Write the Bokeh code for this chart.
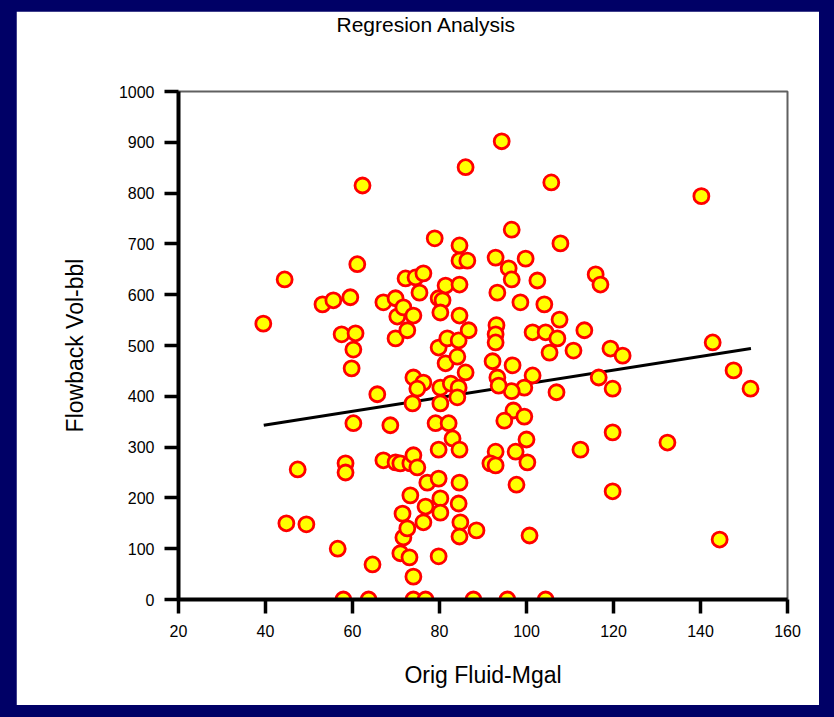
from bokeh.plotting import figure
from bokeh.models import Range1d, FixedTicker, Title
from bokeh.layouts import column
from bokeh.embed import file_html
from bokeh.resources import INLINE

# ---- data ----
orig_fluid = [
    39.5, 44.4, 44.8, 47.4, 49.4, 53.1, 55.6, 56.6, 57.9, 57.5, 58.4, 58.4, 59.5, 59.8, 60.2,
    60.7, 60.2, 61.1, 62.3, 63.7, 64.6, 65.7, 67.1, 67.1, 68.7, 69.9, 69.9, 69.9, 70.3, 71.7,
    72.2, 72.6, 74.0, 74.5, 76.3, 75.4, 71.0, 73.3, 71.5, 71.7, 72.6, 71.0, 73.1, 73.3, 74.0,
    74.0, 76.8, 74.0, 74.9, 73.8, 74.0, 76.3, 74.9, 77.2, 79.8, 76.8, 80.2, 80.2, 76.3, 79.8,
    78.9, 79.8, 80.7, 80.2, 81.4, 79.8, 81.8, 81.4, 80.2, 82.6, 84.4, 84.1, 80.2, 79.1, 82.1,
    83.0, 79.8, 84.6, 84.6, 84.4, 84.8, 88.5, 84.6, 84.6, 84.6, 86.4, 84.6, 84.6, 84.4, 86.7,
    84.1, 86.0, 86.0, 87.8, 95.6, 104.4,
    94.3, 96.6, 92.9, 99.8, 95.9, 96.6, 93.3, 98.6, 102.5, 104.1, 93.1, 92.9, 92.9, 92.2, 96.8,
    101.4, 104.4, 107.1, 101.4, 99.5, 96.6, 93.3, 93.6, 97.0, 94.9, 99.5, 100.0, 97.5, 92.9, 91.7,
    92.9, 100.2, 97.7, 100.7, 105.7, 107.8, 105.3, 106.9, 107.6, 110.8, 113.3, 112.4, 115.9, 117.0,
    116.6, 119.3, 122.1, 119.8, 119.8, 119.8, 132.4, 140.2, 142.8, 144.4, 147.6, 151.5,
]
flowback_vol = [
    543, 630, 150, 256, 148, 581, 589, 100, 0, 522, 268, 250, 595, 455, 492,
    524, 347, 660, 815, 0, 69, 404, 585, 274, 343, 593, 514, 270, 557, 575,
    632, 530, 559, 634, 642, 604, 268, 268, 169, 122, 140, 91, 83, 205, 45,
    0, 0, 284, 260, 386, 437, 427, 415, 230, 238, 183, 199, 171, 152, 85,
    711, 593, 589, 565, 618, 496, 514, 465, 417, 425, 417, 398, 386, 347, 347,
    317, 295, 295, 230, 189, 152, 136, 124, 697, 667, 667, 620, 559, 510, 530,
    478, 851, 447, 0, 0, 0,
    902, 728, 673, 671, 652, 630, 604, 585, 628, 581, 540, 522, 506, 469, 461,
    526, 526, 514, 441, 417, 410, 437, 421, 372, 352, 360, 315, 291, 291, 268,
    264, 270, 226, 126, 821, 701, 486, 408, 551, 490, 530, 295, 640, 620,
    437, 494, 480, 415, 329, 213, 309, 794, 506, 118, 451, 415,
]
# regression line end points
reg_x = [39.6, 151.6]
reg_y = [343, 494]

x_ticks = [20, 40, 60, 80, 100, 120, 140, 160]
y_ticks = [0, 100, 200, 300, 400, 500, 600, 700, 800, 900, 1000]

FONT = "Liberation Sans"

p = figure(
    width=803, height=694,
    x_range=Range1d(20, 160), y_range=Range1d(0, 1000),
    output_backend="svg", toolbar_location=None,
    min_border_left=162, min_border_right=32,
    min_border_top=80, min_border_bottom=106,
    background_fill_color="white", border_fill_color="white",
)
p.margin = (11, 15, 12, 16)

# empty spacer title (next to the frame) pushes the real title to the top
spacer = Title(text=" ", text_font_size="10px", standoff=41)
p.add_layout(spacer, "above")
title = Title(text="Regresion Analysis", align="left", offset=158, standoff=0,
              vertical_align="top",
              text_font=FONT, text_font_size="21px", text_font_style="normal",
              text_color="black")
p.add_layout(title, "above")

p.xgrid.visible = False
p.ygrid.visible = False
p.outline_line_color = "#606060"
p.outline_line_width = 2

for ax in (p.xaxis[0], p.yaxis[0]):
    ax.axis_line_width = 4
    ax.axis_line_color = "black"
    ax.major_tick_line_width = 3.5
    ax.major_tick_line_color = "black"
    ax.major_tick_out = 14
    ax.major_tick_in = 0
    ax.minor_tick_line_color = None
    ax.major_label_text_font = FONT
    ax.major_label_text_font_size = "16px"
    ax.major_label_text_color = "black"
    ax.axis_label_text_font = FONT
    ax.axis_label_text_font_size = "23px"
    ax.axis_label_text_font_style = "normal"
    ax.axis_label_text_color = "black"

p.xaxis.ticker = FixedTicker(ticks=x_ticks)
p.yaxis.ticker = FixedTicker(ticks=y_ticks)
p.xaxis.axis_label = "Orig Fluid-Mgal"
p.yaxis.axis_label = "Flowback Vol-bbl"
p.xaxis.major_label_standoff = 11
p.yaxis.major_label_standoff = 10
p.xaxis.axis_label_standoff = 22
p.yaxis.axis_label_standoff = 28

p.line(reg_x, reg_y, line_color="black", line_width=3)
p.scatter(orig_fluid, flowback_vol, size=15, fill_color="#ffff00",
          line_color="#ff0000", line_width=2.8)

root = column(p, styles={"background-color": "#000066"})
open("out.html", "w").write(file_html(root, INLINE))
